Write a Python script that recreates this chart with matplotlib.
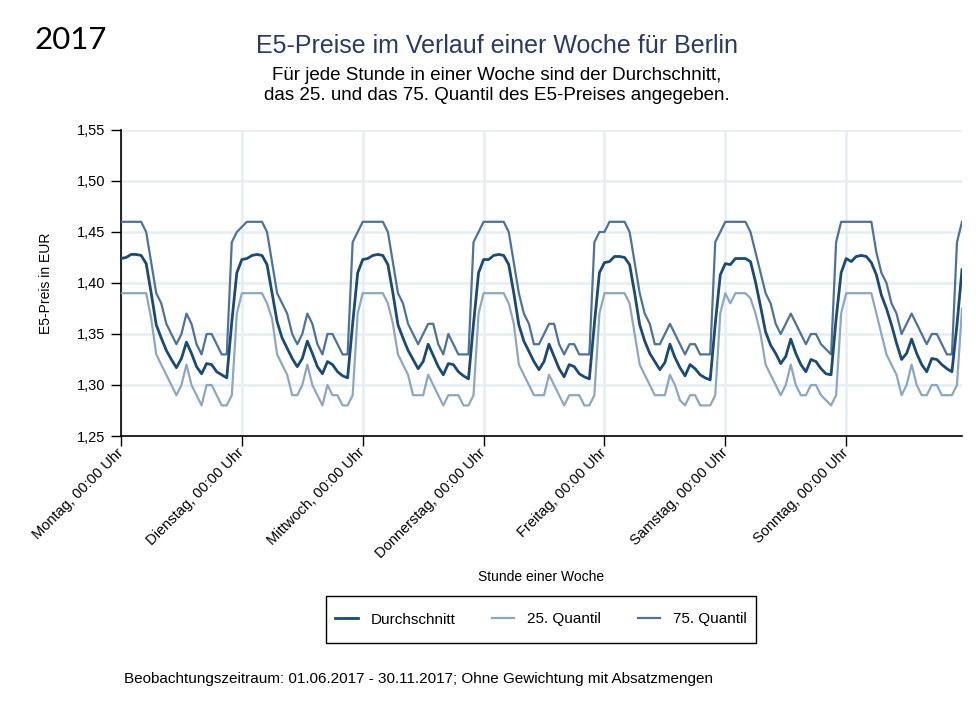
import matplotlib
matplotlib.use("Agg")
import matplotlib.pyplot as plt
from matplotlib.ticker import FixedLocator, FuncFormatter
from matplotlib.patches import Rectangle
import numpy as np

plt.rcParams['font.family'] = ['Liberation Sans', 'DejaVu Sans']

# ---- data (hourly values, Monday 00:00 .. Sunday 23:00) ----
day_labels = ["Montag, 00:00 Uhr", "Dienstag, 00:00 Uhr", "Mittwoch, 00:00 Uhr",
              "Donnerstag, 00:00 Uhr", "Freitag, 00:00 Uhr", "Samstag, 00:00 Uhr",
              "Sonntag, 00:00 Uhr"]

mean_mo = [1.424,1.425,1.428,1.428,1.427,1.419,1.390,1.359,1.346,1.334,1.325,1.317,1.326,1.342,1.331,1.318,1.311,1.321,1.320,1.313,1.310,1.307,1.362,1.410]
mean_di = [1.423,1.424,1.427,1.428,1.427,1.418,1.390,1.362,1.346,1.336,1.326,1.318,1.326,1.343,1.331,1.318,1.311,1.323,1.320,1.313,1.309,1.307,1.360,1.410]
mean_mi = [1.423,1.424,1.427,1.428,1.427,1.418,1.390,1.359,1.346,1.334,1.325,1.316,1.323,1.340,1.329,1.318,1.310,1.321,1.320,1.313,1.309,1.306,1.360,1.410]
mean_do = [1.423,1.423,1.427,1.428,1.427,1.418,1.390,1.359,1.343,1.333,1.323,1.315,1.323,1.340,1.328,1.316,1.308,1.320,1.318,1.311,1.308,1.306,1.360,1.410]
mean_fr = [1.420,1.421,1.426,1.426,1.425,1.418,1.390,1.359,1.343,1.331,1.323,1.315,1.322,1.340,1.327,1.317,1.309,1.320,1.316,1.310,1.307,1.305,1.360,1.408]
mean_sa = [1.419,1.418,1.424,1.424,1.424,1.421,1.401,1.377,1.352,1.339,1.331,1.321,1.328,1.345,1.331,1.320,1.313,1.325,1.323,1.316,1.311,1.310,1.365,1.410]
mean_so = [1.424,1.421,1.426,1.427,1.426,1.420,1.408,1.388,1.375,1.359,1.341,1.325,1.331,1.345,1.331,1.320,1.313,1.326,1.325,1.320,1.316,1.313,1.359,1.413]

q75_mo = [1.46,1.46,1.46,1.46,1.46,1.45,1.42,1.39,1.38,1.36,1.35,1.34,1.35,1.37,1.36,1.34,1.33,1.35,1.35,1.34,1.33,1.33,1.44,1.45]
q75_di = [1.455,1.46,1.46,1.46,1.46,1.45,1.42,1.39,1.38,1.37,1.35,1.34,1.35,1.37,1.36,1.34,1.33,1.35,1.35,1.34,1.33,1.33,1.44,1.45]
q75_mi = [1.46,1.46,1.46,1.46,1.46,1.45,1.42,1.39,1.38,1.36,1.35,1.34,1.35,1.36,1.36,1.34,1.33,1.35,1.34,1.33,1.33,1.33,1.44,1.45]
q75_do = [1.46,1.46,1.46,1.46,1.46,1.45,1.42,1.39,1.37,1.36,1.34,1.34,1.35,1.36,1.36,1.34,1.33,1.34,1.34,1.33,1.33,1.33,1.44,1.45]
q75_fr = [1.45,1.46,1.46,1.46,1.46,1.45,1.42,1.39,1.37,1.36,1.34,1.34,1.35,1.36,1.35,1.34,1.33,1.34,1.34,1.33,1.33,1.33,1.44,1.45]
q75_sa = [1.46,1.46,1.46,1.46,1.46,1.45,1.43,1.41,1.39,1.38,1.36,1.35,1.36,1.37,1.36,1.35,1.34,1.35,1.35,1.34,1.335,1.33,1.44,1.46]
q75_so = [1.46,1.46,1.46,1.46,1.46,1.46,1.43,1.41,1.40,1.38,1.37,1.35,1.36,1.37,1.36,1.35,1.34,1.35,1.35,1.34,1.33,1.33,1.44,1.46]

q25_mo = [1.39,1.39,1.39,1.39,1.39,1.39,1.365,1.33,1.32,1.31,1.30,1.29,1.30,1.32,1.30,1.29,1.28,1.30,1.30,1.29,1.28,1.28,1.29,1.37]
q25_di = [1.39,1.39,1.39,1.39,1.39,1.38,1.365,1.33,1.32,1.31,1.29,1.29,1.30,1.32,1.30,1.29,1.28,1.30,1.29,1.29,1.28,1.28,1.29,1.37]
q25_mi = [1.39,1.39,1.39,1.39,1.39,1.38,1.36,1.33,1.32,1.31,1.29,1.29,1.29,1.31,1.30,1.29,1.28,1.29,1.29,1.29,1.28,1.28,1.29,1.37]
q25_do = [1.39,1.39,1.39,1.39,1.39,1.38,1.36,1.32,1.31,1.30,1.29,1.29,1.29,1.31,1.30,1.29,1.28,1.29,1.29,1.29,1.28,1.28,1.29,1.37]
q25_fr = [1.39,1.39,1.39,1.39,1.39,1.38,1.35,1.32,1.31,1.30,1.29,1.29,1.29,1.31,1.30,1.285,1.28,1.29,1.29,1.28,1.28,1.28,1.29,1.37]
q25_sa = [1.39,1.38,1.39,1.39,1.39,1.385,1.37,1.35,1.32,1.31,1.30,1.29,1.30,1.32,1.30,1.29,1.29,1.30,1.30,1.29,1.285,1.28,1.29,1.37]
q25_so = [1.39,1.39,1.39,1.39,1.39,1.39,1.37,1.35,1.33,1.32,1.31,1.29,1.30,1.32,1.30,1.29,1.29,1.30,1.30,1.29,1.29,1.29,1.30,1.375]

mean_vals = mean_mo + mean_di + mean_mi + mean_do + mean_fr + mean_sa + mean_so
q75_vals = q75_mo + q75_di + q75_mi + q75_do + q75_fr + q75_sa + q75_so
q25_vals = q25_mo + q25_di + q25_mi + q25_do + q25_fr + q25_sa + q25_so
hours = np.arange(len(mean_vals))

col_mean = "#1b4a76"
col_q25 = "#8ea7c0"
col_q75 = "#4e7298"

W, H = 976, 713
fig = plt.figure(figsize=(W/100, H/100), dpi=100)
fig.patch.set_facecolor("white")
ax = fig.add_axes([121/W, 1-436/H, (962-121)/W, (436-130)/H])

ax.plot(hours, mean_vals, color=col_mean, lw=2.0, label="Durchschnitt", zorder=4)
ax.plot(hours, q25_vals, color=col_q25, lw=1.6, label="25. Quantil", zorder=3)
ax.plot(hours, q75_vals, color=col_q75, lw=1.6, label="75. Quantil", zorder=3)

ax.set_xlim(0, hours[-1])
ax.set_ylim(1.25, 1.55)
ax.yaxis.set_major_locator(FixedLocator(np.arange(1.25, 1.5501, 0.05)))
ax.yaxis.set_major_formatter(FuncFormatter(lambda v, p: f"{v:.2f}".replace(".", ",")))
day_pos = np.arange(len(day_labels)) * 24
ax.set_xticks(day_pos)
ax.set_xticklabels(day_labels, rotation=45, ha="right", va="center",
                   rotation_mode="anchor", fontsize=10.5)
ax.tick_params(axis="y", labelsize=10.5, length=7.5, width=1, direction="out", pad=4)
ax.tick_params(axis="x", length=7.5, width=1, direction="out", pad=3)

ax.grid(True, color="#e7eef1", lw=1.8, zorder=0)
ax.set_axisbelow(True)
for s in ["top", "right"]:
    ax.spines[s].set_visible(False)
for s in ["left", "bottom"]:
    ax.spines[s].set_color("black")
    ax.spines[s].set_linewidth(1.2)

fig.text(0.047, 0.603, "E5-Preis in EUR", rotation=90, ha="center", va="center", fontsize=10)
fig.text(541/W, 1-577/H, "Stunde einer Woche", ha="center", va="center", fontsize=10)

fig.text(35/W, 1-40/H, "2017", ha="left", va="center", fontsize=22.5,
         family=["Lato", "DejaVu Sans"])
fig.text(497/W, 1-46/H, "E5-Preise im Verlauf einer Woche für Berlin",
         ha="center", va="center", fontsize=18, color="#2a3a63")
fig.text(497/W, 1-75/H, "Für jede Stunde in einer Woche sind der Durchschnitt,",
         ha="center", va="center", fontsize=13.5)
fig.text(497/W, 1-96/H, "das 25. und das 75. Quantil des E5-Preises angegeben.",
         ha="center", va="center", fontsize=13.5)

# legend with a manually drawn frame
fig.patches.append(Rectangle((326/W, 1-643/H), (756-326)/W, (643-596)/H,
                             transform=fig.transFigure, fill=False,
                             edgecolor="black", lw=1.0, zorder=5))
leg = fig.legend(loc="center", bbox_to_anchor=(541/W, 1-619.5/H), ncol=3,
                 frameon=False, fontsize=11, handlelength=1.45,
                 columnspacing=2.4, borderpad=0.5, handletextpad=0.85)

fig.text(124/W, 1-679/H,
         "Beobachtungszeitraum: 01.06.2017 - 30.11.2017; Ohne Gewichtung mit Absatzmengen",
         ha="left", va="center", fontsize=11)

fig.savefig("out.png", dpi=100, facecolor="white")
